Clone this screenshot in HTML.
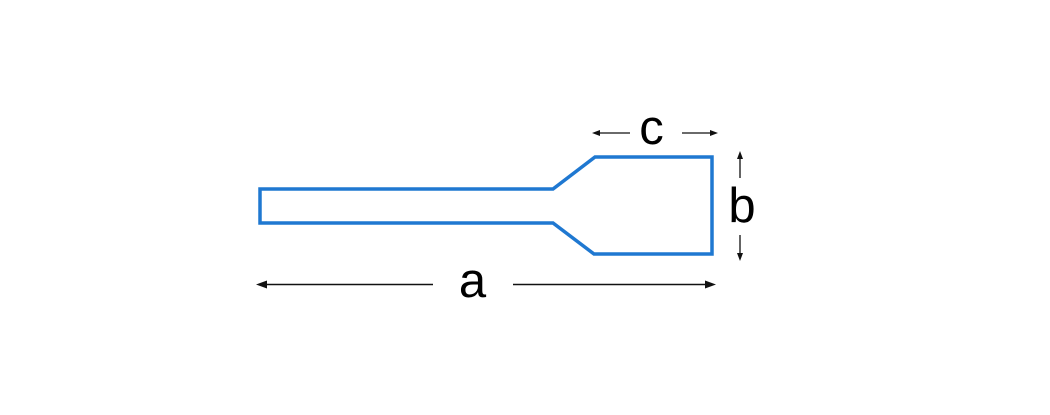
<!DOCTYPE html>
<html><head><meta charset="utf-8"><style>
html,body{margin:0;padding:0;background:#fff;}
svg{display:block;}
</style></head><body>
<svg width="1050" height="415" viewBox="0 0 1050 415" xmlns="http://www.w3.org/2000/svg">
<rect width="1050" height="415" fill="#fff"/>
<path d="M260,189 L553,189 L595,157 L712,157 L712,254 L594,254 L553,223 L260,223 Z" fill="none" stroke="#1f78d1" stroke-width="3.5" stroke-linejoin="miter"/>
<!-- a arrows -->
<line x1="266" y1="284.5" x2="433" y2="284.5" stroke="#111" stroke-width="1.5"/>
<polygon points="256,284.5 267,280.5 267,288.5" fill="#111"/>
<line x1="513" y1="284.5" x2="706" y2="284.5" stroke="#111" stroke-width="1.5"/>
<polygon points="716,284.5 705,280.5 705,288.5" fill="#111"/>
<text x="472.5" y="297" font-family="Liberation Sans, Arial, sans-serif" font-size="49" text-anchor="middle" fill="#000">a</text>
<!-- c arrows -->
<line x1="598" y1="133" x2="630" y2="133" stroke="#111" stroke-width="1.3"/>
<polygon points="592,133 600,130 600,136" fill="#111"/>
<line x1="682" y1="133" x2="712" y2="133" stroke="#111" stroke-width="1.3"/>
<polygon points="718,133 710,130 710,136" fill="#111"/>
<text x="651.5" y="144" font-family="Liberation Sans, Arial, sans-serif" font-size="49" text-anchor="middle" fill="#000">c</text>
<!-- b arrows -->
<line x1="740" y1="157" x2="740" y2="178" stroke="#111" stroke-width="1.3"/>
<polygon points="740,151 737,159 743,159" fill="#111"/>
<line x1="740" y1="235" x2="740" y2="255" stroke="#111" stroke-width="1.3"/>
<polygon points="740,261 737,253 743,253" fill="#111"/>
<text x="742" y="222" font-family="Liberation Sans, Arial, sans-serif" font-size="49" text-anchor="middle" fill="#000">b</text>
</svg>
</body></html>
